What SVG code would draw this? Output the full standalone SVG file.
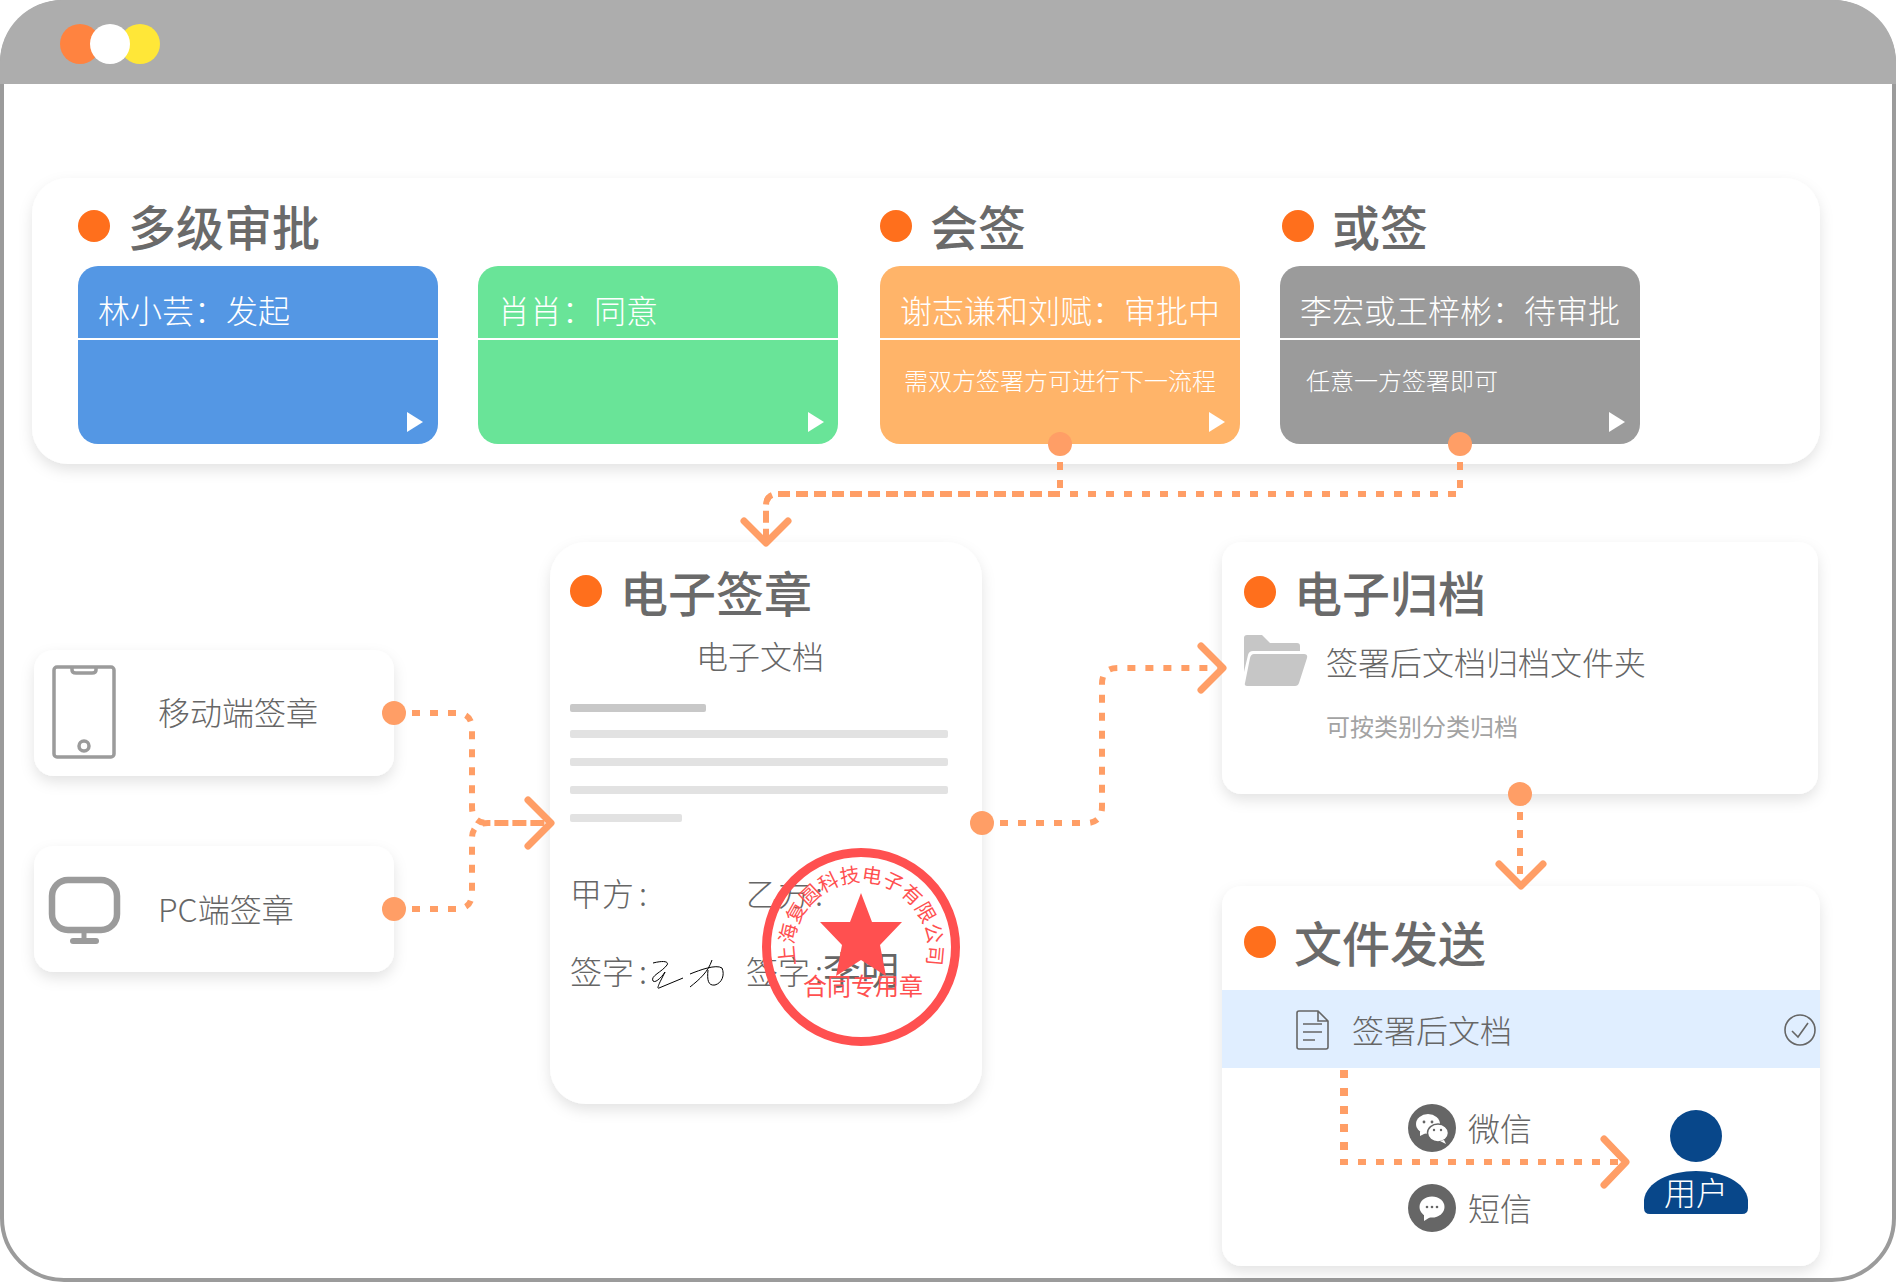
<svg xmlns="http://www.w3.org/2000/svg" width="1896" height="1282" viewBox="0 0 1896 1282">
<style>
text{font-family:"Noto Sans CJK SC","Noto Sans",sans-serif;fill:#666}
.h{font-size:48px;font-weight:500;fill:#6a6a6a}
.m{font-size:32px;font-weight:300}
.w{fill:#fff;font-size:32px;font-weight:300}
.ws{fill:#fff;font-size:24px;font-weight:300}
.card{fill:#fff;filter:url(#sh)}
.dot{fill:#ff6f1c}
.cd{fill:#ff9e66}
.tri{fill:#fff}
.sep{fill:#fff}
.bar{fill:#e2e2e2}
.dash{fill:none;stroke:#ff9e66;stroke-width:6;stroke-dasharray:8 10}
.arr{fill:none;stroke:#ff9e66;stroke-width:7;stroke-linecap:round;stroke-linejoin:round}
.ic{fill:none;stroke:#9b9b9b}
.red{fill:#ff5050}
.rt{fill:#ff5050}
</style>
<defs>
<filter id="sh" x="-10%" y="-15%" width="120%" height="135%"><feDropShadow dx="0" dy="6" stdDeviation="7" flood-color="#000" flood-opacity="0.11"/></filter>
<path id="arc" d="M861,1016 A67,67 0 1 1 861.01,1016"/>
</defs>
<g id="window">
<rect x="2" y="2" width="1892" height="1278" rx="62" fill="#fff" stroke="#9b9b9b" stroke-width="4"/>
<path d="M0,84 V62 A62,62 0 0 1 62,0 H1834 A62,62 0 0 1 1896,62 V84 Z" fill="#adadad"/>
<circle cx="80" cy="44" r="20" fill="#ff8340"/>
<circle cx="140" cy="44" r="20" fill="#ffe738"/>
<circle cx="110" cy="44" r="20" fill="#fff"/>
</g>
<g id="approval">
<rect class="card" x="32" y="178" width="1788" height="286" rx="36"/>
<circle class="dot" cx="94" cy="226" r="16"/><text class="h" x="128" y="246">多级审批</text>
<circle class="dot" cx="896" cy="226" r="16"/><text class="h" x="930" y="246">会签</text>
<circle class="dot" cx="1298" cy="226" r="16"/><text class="h" x="1332" y="246">或签</text>
</g>
<g id="step-initiate">
<rect x="78" y="266" width="360" height="178" rx="20" fill="#5497e4"/>
<rect class="sep" x="78" y="338" width="360" height="2"/>
<text class="w" x="98" y="323">林小芸：发起</text>
<path class="tri" d="M407,412 L423,422 L407,432Z"/>
</g>
<g id="step-agree">
<rect x="478" y="266" width="360" height="178" rx="20" fill="#69e498"/>
<rect class="sep" x="478" y="338" width="360" height="2"/>
<text class="w" x="498" y="323">肖肖：同意</text>
<path class="tri" d="M808,412 L824,422 L808,432Z"/>
</g>
<g id="step-countersign">
<rect x="880" y="266" width="360" height="178" rx="20" fill="#ffb469"/>
<rect class="sep" x="880" y="338" width="360" height="2"/>
<text class="w" x="900" y="323">谢志谦和刘赋：审批中</text>
<text class="ws" x="904" y="390">需双方签署方可进行下一流程</text>
<path class="tri" d="M1209,412 L1225,422 L1209,432Z"/>
</g>
<g id="step-orsign">
<rect x="1280" y="266" width="360" height="178" rx="20" fill="#9b9b9b"/>
<rect class="sep" x="1280" y="338" width="360" height="2"/>
<text class="w" x="1300" y="323">李宏或王梓彬：待审批</text>
<text class="ws" x="1306" y="390">任意一方签署即可</text>
<path class="tri" d="M1609,412 L1625,422 L1609,432Z"/>
</g>
<g id="mobile">
<rect class="card" x="34" y="650" width="360" height="126" rx="20"/>
<g class="ic" stroke-width="3.5">
<rect x="54" y="667" width="60" height="90" rx="3"/>
<path d="M72,667 V670 Q72,673 76,673 H92 Q96,673 96,670 V667"/>
<circle cx="84" cy="746" r="5"/>
</g>
<text class="m" x="158" y="725">移动端签章</text>
</g>
<g id="pc">
<rect class="card" x="34" y="846" width="360" height="126" rx="20"/>
<g class="ic">
<rect x="52" y="880" width="65" height="50" rx="16" stroke-width="6.5"/>
<path d="M84,932 V940" stroke-width="5"/>
<path d="M73,941 H96" stroke-width="6" stroke-linecap="round"/>
</g>
<text class="m" x="158" y="922">PC端签章</text>
</g>
<g id="document">
<rect class="card" x="550" y="542" width="432" height="562" rx="36"/>
<circle class="dot" cx="586" cy="591" r="16"/><text class="h" x="620" y="612">电子签章</text>
<text class="m" x="696" y="669">电子文档</text>
<rect x="570" y="704" width="136" height="8" rx="2" fill="#c8c8c8"/>
<rect class="bar" x="570" y="730" width="378" height="8" rx="2"/>
<rect class="bar" x="570" y="758" width="378" height="8" rx="2"/>
<rect class="bar" x="570" y="786" width="378" height="8" rx="2"/>
<rect class="bar" x="570" y="814" width="112" height="8" rx="2"/>
<text class="m" x="570" y="906">甲方<tspan dx="5">:</tspan></text>
<text class="m" x="746" y="906">乙方<tspan dx="5">:</tspan></text>
<text class="m" x="570" y="984">签字<tspan dx="5">:</tspan></text>
<text class="m" x="746" y="984">签字<tspan dx="5">:</tspan><tspan font-size="38" font-weight="400">李明</tspan></text>
<path d="M653,963 C665,960 669,962 667,965 C662,972 650,976 653,981 C656,984 664,974 665,972 L661,980 C658,986 657,989 659,988 L683,978 M690,987 C700,979 708,972 712,960 M708,970 C707,980 708,986 715,985 C722,983 725,975 722,968 C716,964 700,970 690,974" fill="none" stroke="#000" stroke-width="1"/>
</g>
<g id="stamp">
<circle cx="861" cy="947" r="94.5" fill="none" stroke="#ff5050" stroke-width="9"/>
<path class="red" d="M861,893 L872,922 L902,922 L880,945 L886,976 L861,960 L836,976 L842,945 L820,922 L850,922Z"/>
<text font-size="20" font-weight="400" class="rt" letter-spacing="0.2"><textPath href="#arc" startOffset="50%" text-anchor="middle">上海复圆科技电子有限公司</textPath></text>
<text x="803" y="995" font-size="24" class="rt">合同专用章</text>
</g>
<g id="archive">
<rect class="card" x="1222" y="542" width="596" height="252" rx="20"/>
<circle class="dot" cx="1260" cy="592" r="16"/><text class="h" x="1294" y="612">电子归档</text>
<path d="M1244,638 Q1244,635 1247,635 H1262 L1270,643 H1297 Q1300,643 1300,646 V651 H1253 Q1249,651 1248,655 L1244,672Z" fill="#c6c6c6"/>
<path d="M1254,654 H1304 Q1308,654 1307,658 L1299,683 Q1298,686 1295,686 H1247 Q1244,686 1245,683 L1250,658 Q1251,654 1254,654Z" fill="#c6c6c6"/>
<text class="m" x="1326" y="675">签署后文档归档文件夹</text>
<text x="1326" y="736" font-size="24" font-weight="400" style="fill:#a3a3a3">可按类别分类归档</text>
</g>
<g id="send">
<rect class="card" x="1222" y="886" width="598" height="380" rx="20"/>
<rect x="1222" y="990" width="598" height="78" fill="#e0eeff"/>
<circle class="dot" cx="1260" cy="942" r="16"/><text class="h" x="1294" y="962">文件发送</text>
<path d="M1299,1011 H1318 L1328,1021 V1047 Q1328,1049 1326,1049 H1299 Q1297,1049 1297,1047 V1013 Q1297,1011 1299,1011Z M1318,1011 V1021 H1328 M1303,1024 H1322 M1303,1032 H1322 M1303,1040 H1315" fill="none" stroke="#666" stroke-width="1.6"/>
<text class="m" x="1352" y="1043">签署后文档</text>
<circle cx="1800" cy="1030" r="15" fill="none" stroke="#666" stroke-width="1.6"/>
<path d="M1792,1031 L1798,1037 L1808,1023" fill="none" stroke="#666" stroke-width="1.6"/>
</g>
<g id="wechat">
<circle cx="1432" cy="1128" r="24" fill="#666"/>
<ellipse cx="1428" cy="1124" rx="12" ry="10" fill="#fff"/>
<path d="M1420,1131 L1420,1136 L1426,1133Z" fill="#fff"/>
<ellipse cx="1438" cy="1133" rx="10.5" ry="9" fill="#fff" stroke="#666" stroke-width="1.5"/>
<path d="M1444,1140 L1446,1144 L1440,1141Z" fill="#fff"/>
<g fill="#666"><circle cx="1424" cy="1122" r="1.4"/><circle cx="1432" cy="1122" r="1.4"/><circle cx="1434" cy="1130" r="1.2"/><circle cx="1441" cy="1130" r="1.2"/></g>
<text class="m" x="1468" y="1141">微信</text>
</g>
<g id="sms">
<circle cx="1432" cy="1208" r="24" fill="#666"/>
<ellipse cx="1432" cy="1207" rx="12.5" ry="10.5" fill="#fff"/>
<path d="M1424,1214 L1424,1221 L1432,1216Z" fill="#fff"/>
<g fill="#666"><circle cx="1427" cy="1207" r="1.3"/><circle cx="1432" cy="1207" r="1.3"/><circle cx="1437" cy="1207" r="1.3"/></g>
<text class="m" x="1468" y="1221">短信</text>
</g>
<g id="user">
<ellipse cx="1696" cy="1136" rx="26" ry="26" fill="#08478a"/>
<path d="M1644,1208 V1200 C1646,1182 1670,1171 1696,1171 C1722,1171 1746,1182 1748,1200 V1208 Q1748,1214 1742,1214 H1650 Q1644,1214 1644,1208Z" fill="#08478a"/>
<text class="w" x="1664" y="1205" font-weight="400">用户</text>
</g>
<g id="connectors">
<path class="dash" d="M1060,444 V494 H778 Q766,494 766,506 V540"/>
<path class="dash" d="M1460,444 V494 H778 Q766,494 766,506 V540"/>
<path class="arr" d="M744,521 L766,543 L788,521"/>
<path class="dash" d="M394,713 H456 Q472,713 472,729 V807 Q472,823 488,823 H550"/>
<path class="dash" d="M394,909 H456 Q472,909 472,893 V839 Q472,823 488,823 H550"/>
<path class="arr" d="M528,800 L551,823 L528,846"/>
<path class="dash" d="M982,823 H1086 Q1102,823 1102,807 V684 Q1102,668 1118,668 H1222"/>
<path class="arr" d="M1201,646 L1223,668 L1201,690"/>
<path class="dash" d="M1520,794 V884"/>
<path class="arr" d="M1499,864 L1521,886 L1543,864"/>
<path class="dash" style="stroke-width:8" d="M1344,1070 V1160"/>
<path class="dash" d="M1340,1162 H1625"/>
<path class="arr" d="M1604,1139 L1626,1162 L1604,1185"/>
<circle class="cd" cx="1060" cy="444" r="12"/>
<circle class="cd" cx="1460" cy="444" r="12"/>
<circle class="cd" cx="394" cy="713" r="12"/>
<circle class="cd" cx="394" cy="909" r="12"/>
<circle class="cd" cx="982" cy="823" r="12"/>
<circle class="cd" cx="1520" cy="794" r="12"/>
</g>
</svg>
